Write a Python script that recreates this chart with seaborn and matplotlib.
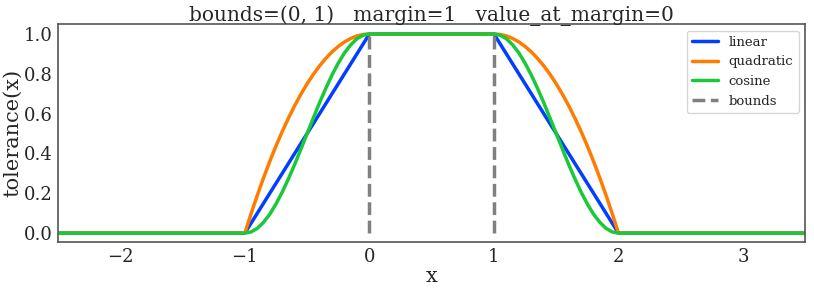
import matplotlib
matplotlib.use("Agg")
import matplotlib.pyplot as plt
import seaborn as sns
import pandas as pd

# ---- data ----
x_lim = [-2.5, 3.5]
bounds = [0, 1]
# transition samples: distance from bound (0 -> 1 margin)
ramp_d = [0.0, 0.05, 0.1, 0.15, 0.2, 0.25, 0.3, 0.35, 0.4, 0.45, 0.5,
          0.55, 0.6, 0.65, 0.7, 0.75, 0.8, 0.85, 0.9, 0.95, 1.0]
linear_vals = [1.0, 0.95, 0.9, 0.85, 0.8, 0.75, 0.7, 0.65, 0.6, 0.55, 0.5,
               0.45, 0.4, 0.35, 0.3, 0.25, 0.2, 0.15, 0.1, 0.05, 0.0]
quadratic_vals = [1.0, 0.9975, 0.99, 0.9775, 0.96, 0.9375, 0.91, 0.8775, 0.84, 0.7975, 0.75,
                  0.6975, 0.64, 0.5775, 0.51, 0.4375, 0.36, 0.2775, 0.19, 0.0975, 0.0]
cosine_vals = [1.0, 0.9938, 0.976, 0.9455, 0.905, 0.8536, 0.794, 0.727, 0.655, 0.5782, 0.5,
               0.4218, 0.345, 0.273, 0.206, 0.1464, 0.095, 0.0545, 0.024, 0.0062, 0.0]
series_names = ["linear", "quadratic", "cosine"]
series_vals = [linear_vals, quadratic_vals, cosine_vals]
colors = ["#023eff", "#ff7c00", "#1ac938"]

sns.set_theme(style="white")
plt.rcParams["font.family"] = ["DejaVu Serif"]

fig = plt.figure(figsize=(8.14, 2.91), dpi=100)
ax = fig.add_axes([0.0713, 0.168, 0.918, 0.7495])

for name, vals, col in zip(series_names, series_vals, colors):
    xs = [x_lim[0]]
    ys = [0.0]
    # left ramp (x = bound_low - d)
    for d, v in zip(reversed(ramp_d), reversed(vals)):
        xs.append(bounds[0] - d)
        ys.append(v)
    # right ramp (x = bound_high + d)
    for d, v in zip(ramp_d, vals):
        xs.append(bounds[1] + d)
        ys.append(v)
    xs.append(x_lim[1])
    ys.append(0.0)
    df = pd.DataFrame({"x": xs, "y": ys})
    sns.lineplot(data=df, x="x", y="y", ax=ax, color=col, lw=2.5,
                 sort=False, estimator=None, label=name)

ax.vlines(bounds, 0, 1, colors="gray", linestyles="--", lw=2.5, label="bounds")

ax.set_xlim(*x_lim)
ax.set_ylim(-0.045, 1.05)
ax.set_xticks([-2, -1, 0, 1, 2, 3])
ax.set_yticks([0.0, 0.2, 0.4, 0.6, 0.8, 1.0])
ax.tick_params(labelsize=13, colors="#262626", pad=4, length=0)
ax.set_xlabel("x", fontsize=15, labelpad=1)
ax.set_ylabel("tolerance(x)", fontsize=15, labelpad=1)
ax.set_title("bounds=(0, 1)   margin=1   value_at_margin=0", fontsize=14.5, pad=2)
for s in ax.spines.values():
    s.set_color("#555555")
    s.set_linewidth(1.2)
ax.legend(loc="upper right", fontsize=9.5, handlelength=2.0)

fig.savefig("out.png", dpi=100)
